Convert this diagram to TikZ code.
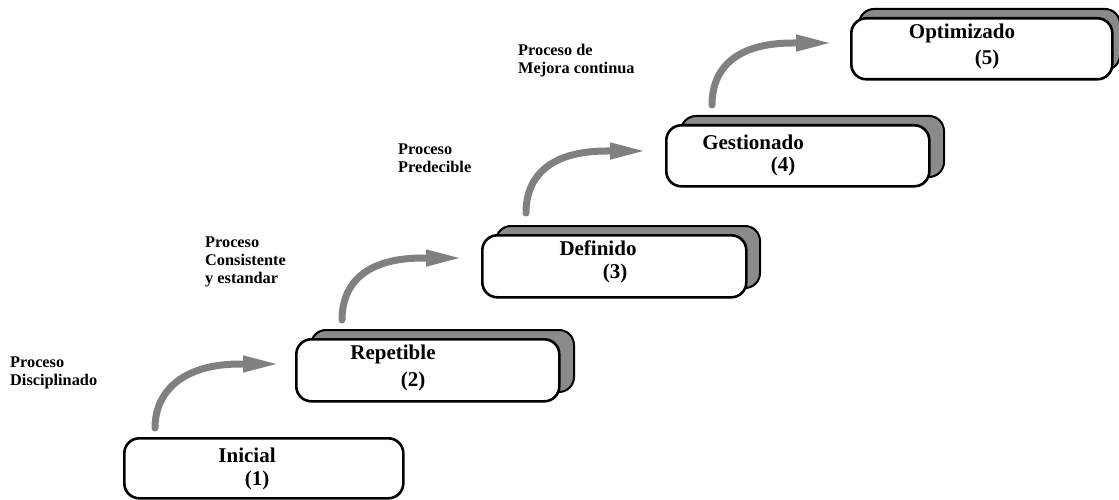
\documentclass[tikz,border=0pt]{standalone}
\usepackage{fontspec}
\setmainfont{Liberation Serif}
\usetikzlibrary{arrows.meta,calc}

\definecolor{flowgray}{RGB}{128,128,128}
\definecolor{backgray}{RGB}{138,138,138}

\tikzset{
  levelbox/.style={draw=black, line width=2.6pt, fill=white, rounded corners=15pt,
    anchor=north west, inner sep=0pt},
  backbox/.style={draw=black, line width=2pt, fill=backgray, rounded corners=15pt,
    anchor=north west, inner sep=0pt},
  levelname/.style={font=\fontsize{21}{24}\selectfont\bfseries, inner sep=0pt},
  levelnum/.style={font=\fontsize{21}{24}\selectfont\bfseries, inner sep=0pt},
  steplabel/.style={font=\fontsize{16.3}{18}\selectfont\bfseries, align=left,
    anchor=north west, inner sep=0pt},
  flow/.style={draw=flowgray, line width=7pt, line cap=round,
    -{Triangle[length=37pt,width=15pt]}}
}

\begin{document}
\begin{tikzpicture}[x=1pt,y=-1pt]
  \fill[white] (0,0) rectangle (1119,500);
  \useasboundingbox (0,0) rectangle (1119,500);

  % level 1
  \node[levelbox, minimum width=279pt, minimum height=60pt] (b1) at (123,437) {};
  \node[levelname] (n1) at (247,455) {Inicial};
  \node[levelnum]  (m1) at (257,480) {(1)};

  % level 2
  \node[backbox, minimum width=263pt, minimum height=62pt] (s2) at (310,329) {};
  \node[levelbox, minimum width=263pt, minimum height=62pt] (b2) at (295,338) {};
  \node[levelname] (n2) at (393,354) {Repetible};
  \node[levelnum]  (m2) at (413,381) {(2)};

  % level 3
  \node[backbox, minimum width=264pt, minimum height=62pt] (s3) at (495,225) {};
  \node[levelbox, minimum width=264pt, minimum height=62pt] (b3) at (481,234) {};
  \node[levelname] (n3) at (598,248) {Definido};
  \node[levelnum]  (m3) at (615,273) {(3)};

  % level 4
  \node[backbox, minimum width=263pt, minimum height=61pt] (s4) at (680,115) {};
  \node[levelbox, minimum width=263pt, minimum height=61pt] (b4) at (665,124) {};
  \node[levelname] (n4) at (753,142) {Gestionado};
  \node[levelnum]  (m4) at (783,166) {(4)};

  % level 5
  \node[backbox, minimum width=261pt, minimum height=61pt] (s5) at (858,8) {};
  \node[levelbox, minimum width=261pt, minimum height=61pt] (b5) at (850,17) {};
  \node[levelname] (n5) at (962,33) {Optimizado};
  \node[levelnum]  (m5) at (987,59) {(5)};

  % step labels
  \node[steplabel] (l1) at (10,357) {Proceso\\Disciplinado};
  \node[steplabel] (l2) at (205,237) {Proceso\\Consistente\\y estandar};
  \node[steplabel] (l3) at (398,144) {Proceso\\Predecible};
  \node[steplabel] (l4) at (518,44) {Proceso de\\Mejora continua};

  % curved transition arrows
  \coordinate (a1s) at (155,428); \coordinate (a1e) at (280,364);
  \coordinate (a2s) at (342,320); \coordinate (a2e) at (463,258);
  \coordinate (a3s) at (526,213); \coordinate (a3e) at (647,151);
  \coordinate (a4s) at (712,105); \coordinate (a4e) at (833,43);

  \foreach \k in {1,2,3,4}{
    \draw[flow] (a\k s) .. controls +(0,-36) and +(-58,0) .. ($(a\k e)+(-40,0)$) -- (a\k e);
  }
\end{tikzpicture}
\end{document}
